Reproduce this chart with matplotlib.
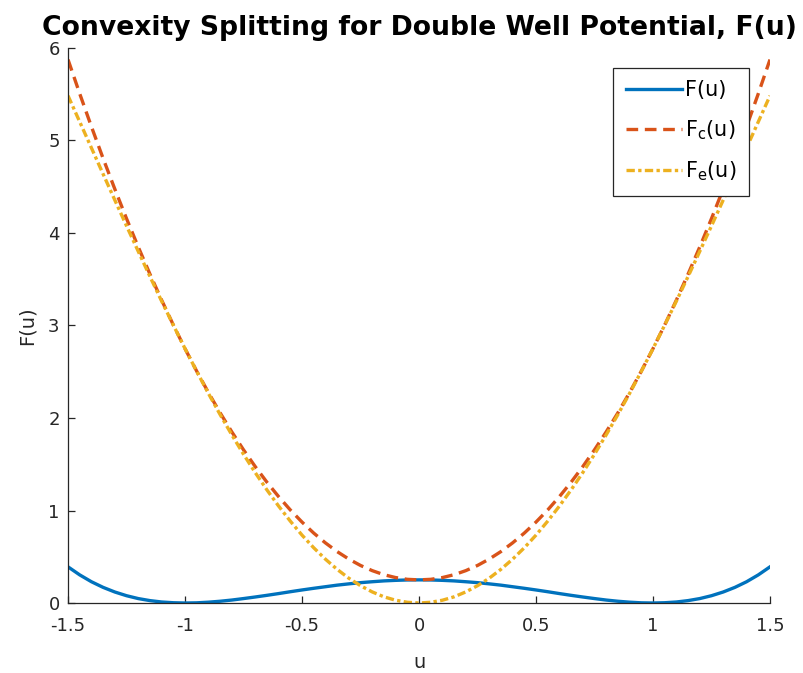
import matplotlib
matplotlib.use("Agg")
import matplotlib.pyplot as plt

u = [-1.50, -1.45, -1.40, -1.35, -1.30, -1.25, -1.20, -1.15, -1.10, -1.05,
     -1.00, -0.95, -0.90, -0.85, -0.80, -0.75, -0.70, -0.65, -0.60, -0.55,
     -0.50, -0.45, -0.40, -0.35, -0.30, -0.25, -0.20, -0.15, -0.10, -0.05,
     0.00, 0.05, 0.10, 0.15, 0.20, 0.25, 0.30, 0.35, 0.40, 0.45,
     0.50, 0.55, 0.60, 0.65, 0.70, 0.75, 0.80, 0.85, 0.90, 0.95,
     1.00, 1.05, 1.10, 1.15, 1.20, 1.25, 1.30, 1.35, 1.40, 1.45, 1.50]

F = [0.391, 0.304, 0.230, 0.169, 0.119, 0.079, 0.048, 0.026, 0.011, 0.003,
     0.000, 0.002, 0.009, 0.019, 0.032, 0.048, 0.065, 0.083, 0.102, 0.122,
     0.141, 0.159, 0.176, 0.193, 0.207, 0.220, 0.230, 0.239, 0.245, 0.249,
     0.250, 0.249, 0.245, 0.239, 0.230, 0.220, 0.207, 0.193, 0.176, 0.159,
     0.141, 0.122, 0.102, 0.083, 0.065, 0.048, 0.032, 0.019, 0.009, 0.002,
     0.000, 0.003, 0.011, 0.026, 0.048, 0.079, 0.119, 0.169, 0.230, 0.304, 0.391]

Fc = [5.875, 5.506, 5.150, 4.806, 4.475, 4.156, 3.850, 3.556, 3.275, 3.006,
      2.750, 2.506, 2.275, 2.056, 1.850, 1.656, 1.475, 1.306, 1.150, 1.006,
      0.875, 0.756, 0.650, 0.556, 0.475, 0.406, 0.350, 0.306, 0.275, 0.256,
      0.250, 0.256, 0.275, 0.306, 0.350, 0.406, 0.475, 0.556, 0.650, 0.756,
      0.875, 1.006, 1.150, 1.306, 1.475, 1.656, 1.850, 2.056, 2.275, 2.506,
      2.750, 3.006, 3.275, 3.556, 3.850, 4.156, 4.475, 4.806, 5.150, 5.506, 5.875]

Fe = [5.484, 5.202, 4.920, 4.637, 4.356, 4.077, 3.802, 3.530, 3.264, 3.004,
      2.750, 2.504, 2.266, 2.037, 1.818, 1.608, 1.410, 1.223, 1.048, 0.885,
      0.734, 0.597, 0.474, 0.364, 0.268, 0.187, 0.120, 0.067, 0.030, 0.008,
      0.000, 0.008, 0.030, 0.067, 0.120, 0.187, 0.268, 0.364, 0.474, 0.597,
      0.734, 0.885, 1.048, 1.223, 1.410, 1.608, 1.818, 2.037, 2.266, 2.504,
      2.750, 3.004, 3.264, 3.530, 3.802, 4.077, 4.356, 4.637, 4.920, 5.202, 5.484]

xticks = [-1.5, -1, -0.5, 0, 0.5, 1, 1.5]
xticklabels = ["-1.5", "-1", "-0.5", "0", "0.5", "1", "1.5"]

plt.rcParams['font.family'] = ['DejaVu Sans']
plt.rcParams['axes.unicode_minus'] = False

fig = plt.figure(figsize=(8.04, 6.73), dpi=100)
ax = fig.add_axes([0.0846, 0.104, 0.8731, 0.8247])

ax.plot(u, F, color='#0072BD', lw=2.4, label='F(u)')
ax.plot(u, Fc, color='#D95319', lw=2.4, ls=(0, (3.5, 2)), label=r'$\mathregular{F_c(u)}$')
ax.plot(u, Fe, color='#EDB120', lw=2.4, ls=(0, (2.5, 1, 1, 1)), label=r'$\mathregular{F_e(u)}$')

ax.set_xlim(-1.5, 1.5)
ax.set_ylim(0, 6)
ax.set_xticks(xticks)
ax.set_xticklabels(xticklabels)
ax.set_yticks(range(7))

for s in ['top', 'right']:
    ax.spines[s].set_visible(False)
for s in ['left', 'bottom']:
    ax.spines[s].set_color('#262626')
    ax.spines[s].set_linewidth(0.9)
ax.tick_params(direction='in', length=5, width=0.9, colors='#262626', labelsize=13)
ax.tick_params(axis='x', pad=10)
ax.tick_params(axis='y', pad=6)

ax.set_xlabel('u', fontsize=14, color='#262626', labelpad=13)
ax.set_ylabel('F(u)', fontsize=14, color='#262626', labelpad=8)
ax.set_title('Convexity Splitting for Double Well Potential, F(u)', fontsize=19.2,
             fontweight='bold', pad=9)

leg = ax.legend(loc='upper right', bbox_to_anchor=(0.97, 0.964), fontsize=15,
                fancybox=False, framealpha=1, edgecolor='#262626', handlelength=2.7,
                handletextpad=0.15, borderpad=0.6, labelspacing=0.85, borderaxespad=0)
leg.get_frame().set_linewidth(0.9)

fig.savefig('out.png', dpi=100)
